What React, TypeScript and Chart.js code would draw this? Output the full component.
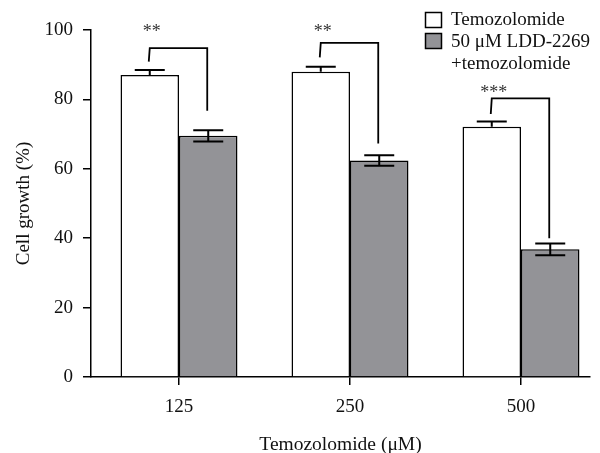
import React, { useEffect, useRef } from "react";
import { Chart, registerables } from "chart.js";

Chart.register(...registerables);

const categories = ["125", "250", "500"];
const temozolomide = [87.0, 88.0, 72.1];
const temozolomideErr = [1.5, 1.4, 1.5];
const combination = [69.5, 62.4, 36.8];
const combinationErr = [1.6, 1.5, 1.7];
const seriesLabels = ["Temozolomide", "50 μM LDD-2269", "+temozolomide"];
const significance = ["**", "**", "***"];
const bracketTop = [94.8, 96.3, 80.3];
const bracketLeftEnd = [90.9, 92.1, 75.8];
const bracketRightEnd = [76.7, 67.3, 40.0];
const starLevel = [100.6, 100.6, 83.0];

const FONT = "'Liberation Serif', 'Times New Roman', serif";
const GRAY = "#939397";

const overlay = {
  id: "overlay",
  afterDatasetsDraw(chart: any) {
    const ctx = chart.ctx;
    const y = chart.scales.y;
    const m0 = chart.getDatasetMeta(0);
    const m1 = chart.getDatasetMeta(1);
    ctx.save();
    ctx.strokeStyle = "#000";
    ctx.lineWidth = 2;
    const cap = 15;
    m0.data.forEach((el: any, i: number) => {
      const top = y.getPixelForValue(temozolomide[i] + temozolomideErr[i]);
      const base = y.getPixelForValue(temozolomide[i]);
      ctx.beginPath();
      ctx.moveTo(el.x, base);
      ctx.lineTo(el.x, top);
      ctx.moveTo(el.x - cap, top);
      ctx.lineTo(el.x + cap, top);
      ctx.stroke();
    });
    m1.data.forEach((el: any, i: number) => {
      const top = y.getPixelForValue(combination[i] + combinationErr[i]);
      const bot = y.getPixelForValue(combination[i] - combinationErr[i]);
      ctx.beginPath();
      ctx.moveTo(el.x, bot);
      ctx.lineTo(el.x, top);
      ctx.moveTo(el.x - cap, top);
      ctx.lineTo(el.x + cap, top);
      ctx.moveTo(el.x - cap, bot);
      ctx.lineTo(el.x + cap, bot);
      ctx.stroke();
    });
    ctx.lineWidth = 1.8;
    m0.data.forEach((el: any, i: number) => {
      const xl = el.x - 1;
      const xr = m1.data[i].x - 1;
      const yt = y.getPixelForValue(bracketTop[i]);
      ctx.beginPath();
      ctx.moveTo(xl, y.getPixelForValue(bracketLeftEnd[i]));
      ctx.lineTo(xl + 1, yt);
      ctx.lineTo(xr, yt);
      ctx.lineTo(xr, y.getPixelForValue(bracketRightEnd[i]));
      ctx.stroke();
      ctx.fillStyle = "#333";
      ctx.font = `18px ${FONT}`;
      ctx.textAlign = "center";
      ctx.textBaseline = "alphabetic";
      ctx.fillText(significance[i], xl + 3, y.getPixelForValue(starLevel[i]) + 9);
    });
    ctx.restore();
  },
  afterDraw(chart: any) {
    const ctx = chart.ctx;
    ctx.save();
    ctx.lineWidth = 1.5;
    ctx.strokeStyle = "#000";
    ctx.fillStyle = "#fff";
    ctx.fillRect(425.5, 12.5, 16, 15);
    ctx.strokeRect(425.5, 12.5, 16, 15);
    ctx.fillStyle = GRAY;
    ctx.fillRect(425.5, 33.5, 16, 15);
    ctx.strokeRect(425.5, 33.5, 16, 15);
    ctx.fillStyle = "#111";
    ctx.font = `19px ${FONT}`;
    ctx.textAlign = "left";
    ctx.textBaseline = "middle";
    ctx.fillText(seriesLabels[0], 451, 20);
    ctx.fillText(seriesLabels[1], 451, 42);
    ctx.fillText(seriesLabels[2], 451, 64);
    ctx.restore();
  },
};

export default function App() {
  const ref = useRef<HTMLCanvasElement>(null);
  useEffect(() => {
    if (!ref.current) return;
    const chart = new Chart(ref.current, {
      type: "bar",
      data: {
        datasets: [
          {
            label: "Temozolomide",
            data: temozolomide.map((v, i) => ({ x: i, y: v })),
            backgroundColor: "#fff",
            borderColor: "#000",
            borderWidth: 1.5,
            categoryPercentage: 0.684,
            barPercentage: 1,
          },
          {
            label: "50 μM LDD-2269 +temozolomide",
            data: combination.map((v, i) => ({ x: i, y: v })),
            backgroundColor: GRAY,
            borderColor: "#000",
            borderWidth: 1.5,
            categoryPercentage: 0.684,
            barPercentage: 1,
          },
        ],
      } as any,
      options: {
        animation: false,
        responsive: false,
        layout: { padding: { top: 30, right: 10, left: 0, bottom: 0 } },
        plugins: { legend: { display: false }, tooltip: { enabled: false } },
        scales: {
          x: {
            type: "linear",
            offset: false,
            min: -0.5146,
            max: 2.4035,
            afterBuildTicks: (s: any) => {
              s.ticks = categories.map((_, i) => ({ value: i }));
            },
            afterFit: (s: any) => {
              s.height = 76;
            },
            grid: { offset: false, drawOnChartArea: false, drawTicks: true, tickLength: 8, color: "#000", lineWidth: 1.5 },
            border: { display: true, color: "#000", width: 1.5 },
            ticks: {
              color: "#111",
              font: { family: FONT, size: 19 },
              padding: 11,
              maxRotation: 0,
              callback: (v: any) => categories[v] ?? "",
            },
            title: {
              display: true,
              text: "Temozolomide (μM)",
              color: "#111",
              font: { family: FONT, size: 19.5, lineHeight: 1 },
              padding: { top: 0, bottom: -2 },
            },
          },
          y: {
            min: 0,
            max: 100,
            afterFit: (s: any) => {
              s.width = 91;
            },
            grid: { drawOnChartArea: false, drawTicks: true, tickLength: 8, color: "#000", lineWidth: 1.5 },
            border: { display: true, color: "#000", width: 1.5 },
            ticks: {
              stepSize: 20,
              color: "#111",
              font: { family: FONT, size: 19 },
              padding: 10,
            },
            title: {
              display: true,
              text: "Cell growth (%)",
              color: "#111",
              font: { family: FONT, size: 19, lineHeight: 1.2 },
              padding: { top: 13, bottom: 0 },
            },
          },
        },
      } as any,
      plugins: [overlay],
    });
    return () => chart.destroy();
  }, []);
  return (
    <div style={{ position: "fixed", left: 0, top: 0, width: 600, height: 453, background: "#fff" }}>
      <canvas ref={ref} width={600} height={453} style={{ display: "block" }} />
    </div>
  );
}
